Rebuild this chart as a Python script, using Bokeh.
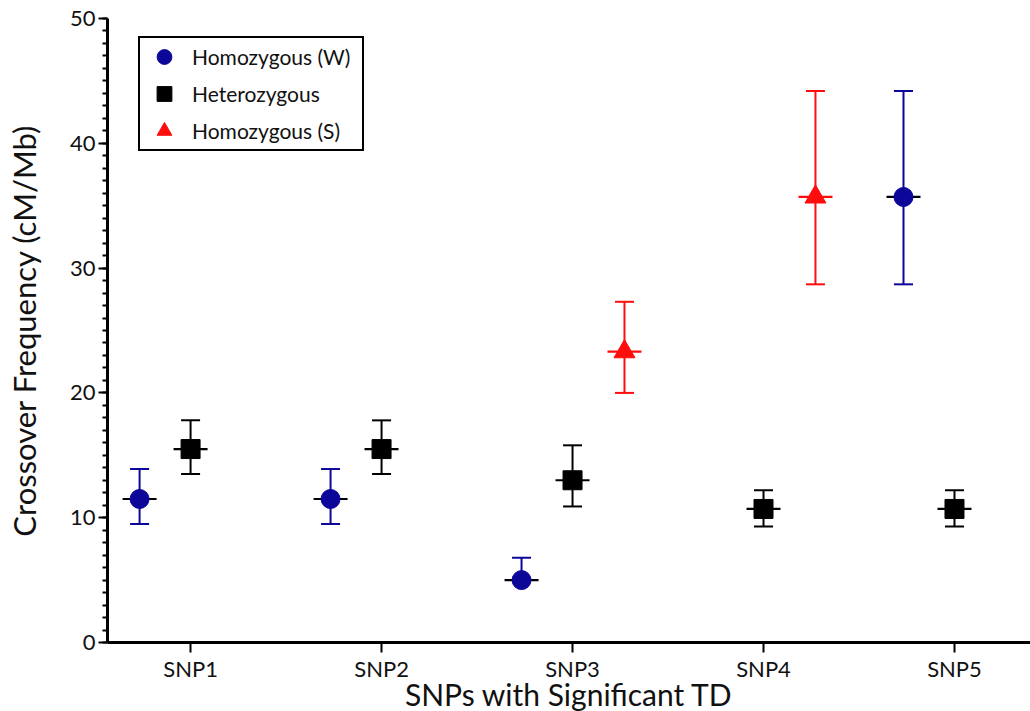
import numpy as np
from bokeh.plotting import figure
from bokeh.models import Range1d, FixedTicker, Legend, LegendItem
from bokeh.embed import file_html
from bokeh.resources import INLINE

nan = np.nan
snps = ["SNP1", "SNP2", "SNP3", "SNP4", "SNP5"]
hom_w_mean = [11.5, 11.5, 5.0, nan, 35.7]
hom_w_low = [9.5, 9.5, nan, nan, 28.7]
hom_w_high = [13.9, 13.9, 6.8, nan, 44.2]
het_mean = [15.5, 15.5, 13.0, 10.7, 10.7]
het_low = [13.5, 13.5, 10.9, 9.3, 9.3]
het_high = [17.8, 17.8, 15.8, 12.2, 12.2]
hom_s_mean = [nan, nan, 23.3, 35.7, nan]
hom_s_low = [nan, nan, 20.0, 28.7, nan]
hom_s_high = [nan, nan, 27.3, 44.2, nan]
y_ticks = [0, 10, 20, 30, 40, 50]

BLUE = "#0c0799"
RED = "#ff0d0d"
FONT = "Lato"

p = figure(width=1030, height=711, output_backend="svg", toolbar_location=None,
           x_range=Range1d(0.565, 5.398), y_range=Range1d(0, 50),
           min_border_left=107, min_border_right=0, min_border_top=18, min_border_bottom=69,
           frame_width=923, frame_height=624)
p.xgrid.visible = False
p.ygrid.visible = False
p.outline_line_color = None
p.background_fill_color = "white"
p.border_fill_color = "white"

idx = np.arange(1, len(snps) + 1)

series = [
    ("Homozygous (W)", hom_w_mean, hom_w_low, hom_w_high, -0.267, BLUE, "circle", 19, "black"),
    ("Heterozygous", het_mean, het_low, het_high, 0.0, "black", "square", 19, "black"),
    ("Homozygous (S)", hom_s_mean, hom_s_low, hom_s_high, 0.272, RED, "triangle", 21, RED),
]

items = []
for label, mean, low, high, off, col, mk, sz, mcol in series:
    x = idx + off
    mean = np.array(mean, dtype=float)
    low = np.array(low, dtype=float)
    high = np.array(high, dtype=float)
    p.segment(x0=x, y0=mean, x1=x, y1=high, line_color=col, line_width=2)
    p.segment(x0=x, y0=mean, x1=x, y1=low, line_color=col, line_width=2)
    p.scatter(x=x, y=high, marker="dash", size=19, line_color=col, line_width=2)
    p.scatter(x=x, y=low, marker="dash", size=19, line_color=col, line_width=2)
    p.scatter(x=x, y=mean, marker="dash", size=34, line_color=mcol, line_width=2.2)
    r = p.scatter(x=x, y=mean, marker=mk, size=sz, fill_color=col, line_color=col, line_width=1)
    items.append(LegendItem(label=label, renderers=[r]))

legend = Legend(items=items, location=(31, 491), orientation="vertical",
                border_line_color="black", border_line_width=2, border_line_alpha=1.0,
                background_fill_color="white", background_fill_alpha=1.0,
                padding=0, spacing=0, glyph_width=48, glyph_height=37, label_height=37,
                label_standoff=4, label_width=170, margin=0,
                label_text_font=FONT, label_text_font_size="21px", label_text_color="#111111")
p.add_layout(legend, "center")

# axes
p.yaxis.ticker = FixedTicker(ticks=y_ticks, minor_ticks=list(range(0, 51)))
p.xaxis.ticker = FixedTicker(ticks=list(idx), minor_ticks=[])
p.xaxis.major_label_overrides = {int(i): s for i, s in zip(idx, snps)}

for ax in (p.xaxis[0], p.yaxis[0]):
    ax.axis_line_width = 3
    ax.axis_line_color = "black"
    ax.major_tick_line_width = 2
    ax.major_tick_line_color = "black"
    ax.minor_tick_line_width = 2
    ax.minor_tick_line_color = "black"
    ax.major_tick_in = 0
    ax.minor_tick_in = 0
    ax.major_label_text_color = "#111111"
    ax.axis_label_text_color = "#111111"
    ax.axis_label_text_font_style = "normal"

p.yaxis.major_tick_out = 9
p.yaxis.minor_tick_out = 5
p.yaxis.major_label_text_font = FONT
p.yaxis.major_label_text_font_size = "22px"
p.yaxis.major_label_standoff = 3
p.yaxis.axis_label = "Crossover Frequency (cM/Mb)"
p.yaxis.axis_label_text_font = FONT
p.yaxis.axis_label_text_font_size = "31px"
p.yaxis.axis_label_standoff = 24

p.xaxis.major_tick_out = 10
p.xaxis.major_label_text_font = FONT
p.xaxis.major_label_text_font_size = "22px"
p.xaxis.major_label_standoff = 2
p.xaxis.axis_label = "SNPs with Significant TD"
p.xaxis.axis_label_text_font = FONT
p.xaxis.axis_label_text_font_size = "30px"
p.xaxis.axis_label_standoff = -9

open("out.html", "w").write(file_html(p, INLINE))
